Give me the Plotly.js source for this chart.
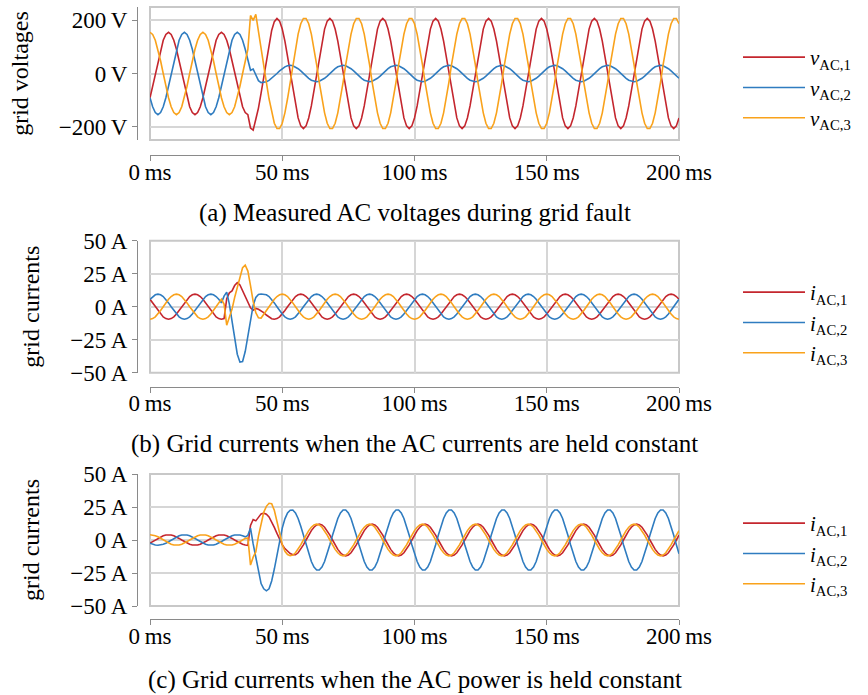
<!DOCTYPE html>
<html>
<head>
<meta charset="utf-8">
<script src="https://cdn.plot.ly/plotly-3.0.1.min.js"></script>
<style>html,body{margin:0;padding:0;background:#fff;}#chart{width:868px;height:695px;}</style>
</head>
<body>
<div id="chart"></div>
<script>
const startMs = 0;
const sampleStepMs = 1;
const xTickVals = [0, 50, 100, 150, 200];
const xTickText = ['0\u2009ms', '50\u2009ms', '100\u2009ms', '150\u2009ms', '200\u2009ms'];
const voltTickVals = [-200, 0, 200];
const voltTickText = ['\u2212200\u2009V', '0\u2009V', '200\u2009V'];
const currTickVals = [-50, -25, 0, 25, 50];
const currTickText = ['\u221250\u2009A', '\u221225\u2009A', '0\u2009A', '25\u2009A', '50\u2009A'];
const seriesNamesV = ['<i>v</i><sub>AC,1</sub>', '<i>v</i><sub>AC,2</sub>', '<i>v</i><sub>AC,3</sub>'];
const seriesNamesI = ['<i>i</i><sub>AC,1</sub>', '<i>i</i><sub>AC,2</sub>', '<i>i</i><sub>AC,3</sub>'];
const captions = ['(a) Measured AC voltages during grid fault',
  '(b) Grid currents when the AC currents are held constant',
  '(c) Grid currents when the AC power is held constant'];
const yTitles = ['grid voltages', 'grid currents', 'grid currents'];

const vAC1 = [
-91,-48,0,48,91,125,147,155,147,125,91,48,0,-48,-91,-125,-147,-155,-147,-125,
-91,-48,0,48,91,125,147,155,147,125,91,48,0,-48,-91,-125,-147,-155,
-205,-213,-172,-130,-74,-12,52,115,162,195,207,
197,167,122,64,0,-64,-122,-167,-197,-207,-197,-167,-122,-64,0,64,122,167,197,207,
197,167,122,64,0,-64,-122,-167,-197,-207,-197,-167,-122,-64,0,64,122,167,197,207,
197,167,122,64,0,-64,-122,-167,-197,-207,-197,-167,-122,-64,0,64,122,167,197,207,
197,167,122,64,0,-64,-122,-167,-197,-207,-197,-167,-122,-64,0,64,122,167,197,207,
197,167,122,64,0,-64,-122,-167,-197,-207,-197,-167,-122,-64,0,64,122,167,197,207,
197,167,122,64,0,-64,-122,-167,-197,-207,-197,-167,-122,-64,0,64,122,167,197,207,
197,167,122,64,0,-64,-122,-167,-197,-207,-197,-167,-122,-64,0,64,122,167,197,207,
197,167,122,64,0,-64,-122,-167,-197,-207,-197,-167];
const vAC2 = [
-91,-125,-147,-155,-147,-125,-91,-48,0,48,91,125,147,155,147,125,91,48,0,-48,
-91,-125,-147,-155,-147,-125,-91,-48,0,48,91,125,147,155,147,125,91,45,
12,17,-6,-27,-34,-33,-31,-26,-18,-10,
0,10,18,25,29,31,29,25,18,10,0,-10,-18,-25,-29,-31,-29,-25,-18,-10,
0,10,18,25,29,31,29,25,18,10,0,-10,-18,-25,-29,-31,-29,-25,-18,-10,
0,10,18,25,29,31,29,25,18,10,0,-10,-18,-25,-29,-31,-29,-25,-18,-10,
0,10,18,25,29,31,29,25,18,10,0,-10,-18,-25,-29,-31,-29,-25,-18,-10,
0,10,18,25,29,31,29,25,18,10,0,-10,-18,-25,-29,-31,-29,-25,-18,-10,
0,10,18,25,29,31,29,25,18,10,0,-10,-18,-25,-29,-31,-29,-25,-18,-10,
0,10,18,25,29,31,29,25,18,10,0,-10,-18,-25,-29,-31,-29,-25,-18,-10,
0,10,18,25,29,31,29,25,18,10,0,-10,-18];
const vAC3 = [
155,147,125,91,48,0,-48,-91,-125,-147,-155,-147,-125,-91,-48,0,48,91,125,147,
155,147,125,91,48,0,-48,-91,-125,-147,-155,-147,-125,-91,-48,0,48,91,
218,200,222,162,102,36,
-33,-95,-148,-187,-207,-207,-187,-148,-95,-33,33,95,148,187,207,207,187,148,95,33,
-33,-95,-148,-187,-207,-207,-187,-148,-95,-33,33,95,148,187,207,207,187,148,95,33,
-33,-95,-148,-187,-207,-207,-187,-148,-95,-33,33,95,148,187,207,207,187,148,95,33,
-33,-95,-148,-187,-207,-207,-187,-148,-95,-33,33,95,148,187,207,207,187,148,95,33,
-33,-95,-148,-187,-207,-207,-187,-148,-95,-33,33,95,148,187,207,207,187,148,95,33,
-33,-95,-148,-187,-207,-207,-187,-148,-95,-33,33,95,148,187,207,207,187,148,95,33,
-33,-95,-148,-187,-207,-207,-187,-148,-95,-33,33,95,148,187,207,207,187,148,95,33,
-33,-95,-148,-187,-207,-207,-187,-148,-95,-33,33,95,148,187,207,207,187];

const iAC1b = [
5.6,2.9,0,-2.9,-5.6,-7.7,-9.0,-9.5,-9.0,-7.7,-5.6,-2.9,0,2.9,5.6,7.7,9.0,9.5,9.0,7.7,
5.6,2.9,0,-2.9,-5.6,-7.7,-9.0,-9.5,-9.0,
6,10.5,12,16,18.2,16.5,12,7,2.5,-0.8,-2.6,-1.3,-2.0,-3.0,-4.5,-6.3,-8.0,-9.1,-9.5,
-9.0,-7.7,-5.6,-2.9,0,2.9,5.6,7.7,9.0,9.5,9.0,7.7,5.6,2.9,0,-2.9,-5.6,-7.7,-9.0,-9.5,
-9.0,-7.7,-5.6,-2.9,0,2.9,5.6,7.7,9.0,9.5,9.0,7.7,5.6,2.9,0,-2.9,-5.6,-7.7,-9.0,-9.5,
-9.0,-7.7,-5.6,-2.9,0,2.9,5.6,7.7,9.0,9.5,9.0,7.7,5.6,2.9,0,-2.9,-5.6,-7.7,-9.0,-9.5,
-9.0,-7.7,-5.6,-2.9,0,2.9,5.6,7.7,9.0,9.5,9.0,7.7,5.6,2.9,0,-2.9,-5.6,-7.7,-9.0,-9.5,
-9.0,-7.7,-5.6,-2.9,0,2.9,5.6,7.7,9.0,9.5,9.0,7.7,5.6,2.9,0,-2.9,-5.6,-7.7,-9.0,-9.5,
-9.0,-7.7,-5.6,-2.9,0,2.9,5.6,7.7,9.0,9.5,9.0,7.7,5.6,2.9,0,-2.9,-5.6,-7.7,-9.0,-9.5,
-9.0,-7.7,-5.6,-2.9,0,2.9,5.6,7.7,9.0,9.5,9.0,7.7,5.6,2.9,0,-2.9,-5.6,-7.7,-9.0,-9.5,
-9.0,-7.7,-5.6,-2.9,0,2.9,5.6,7.7,9.0,9.5,9.0,7.7,5.6];
const iAC2b = [
5.6,7.7,9.0,9.5,9.0,7.7,5.6,2.9,0,-2.9,-5.6,-7.7,-9.0,-9.5,-9.0,-7.7,-5.6,-2.9,0,2.9,
5.6,7.7,9.0,9.5,9.0,7.7,5.6,2.9,
8,11,2,-12,-25,-36,-42,-41.5,-34,-22,-9,1,7,9.3,9.6,
9.5,9.0,7.7,5.6,2.9,0,-2.9,-5.6,-7.7,-9.0,-9.5,-9.0,-7.7,-5.6,-2.9,0,2.9,5.6,7.7,9.0,
9.5,9.0,7.7,5.6,2.9,0,-2.9,-5.6,-7.7,-9.0,-9.5,-9.0,-7.7,-5.6,-2.9,0,2.9,5.6,7.7,9.0,
9.5,9.0,7.7,5.6,2.9,0,-2.9,-5.6,-7.7,-9.0,-9.5,-9.0,-7.7,-5.6,-2.9,0,2.9,5.6,7.7,9.0,
9.5,9.0,7.7,5.6,2.9,0,-2.9,-5.6,-7.7,-9.0,-9.5,-9.0,-7.7,-5.6,-2.9,0,2.9,5.6,7.7,9.0,
9.5,9.0,7.7,5.6,2.9,0,-2.9,-5.6,-7.7,-9.0,-9.5,-9.0,-7.7,-5.6,-2.9,0,2.9,5.6,7.7,9.0,
9.5,9.0,7.7,5.6,2.9,0,-2.9,-5.6,-7.7,-9.0,-9.5,-9.0,-7.7,-5.6,-2.9,0,2.9,5.6,7.7,9.0,
9.5,9.0,7.7,5.6,2.9,0,-2.9,-5.6,-7.7,-9.0,-9.5,-9.0,-7.7,-5.6,-2.9,0,2.9,5.6,7.7,9.0,
9.5,9.0,7.7,5.6,2.9,0,-2.9,-5.6,-7.7,-9.0,-9.5,-9.0,-7.7,-5.6,-2.9,0,2.9,5.6];
const iAC3b = [
-9.5,-9.0,-7.7,-5.6,-2.9,0,2.9,5.6,7.7,9.0,9.5,9.0,7.7,5.6,2.9,0,-2.9,-5.6,-7.7,-9.0,
-9.5,-9.0,-7.7,-5.6,-2.9,0,2.9,5.6,
2,-14,-8,-2,7,15,23,29.5,31.5,27,16,4,-4.5,-8.4,-8.6,
-5.6,-2.9,0,2.9,5.6,7.7,9.0,9.5,9.0,7.7,5.6,2.9,0,-2.9,-5.6,-7.7,-9.0,-9.5,-9.0,-7.7,
-5.6,-2.9,0,2.9,5.6,7.7,9.0,9.5,9.0,7.7,5.6,2.9,0,-2.9,-5.6,-7.7,-9.0,-9.5,-9.0,-7.7,
-5.6,-2.9,0,2.9,5.6,7.7,9.0,9.5,9.0,7.7,5.6,2.9,0,-2.9,-5.6,-7.7,-9.0,-9.5,-9.0,-7.7,
-5.6,-2.9,0,2.9,5.6,7.7,9.0,9.5,9.0,7.7,5.6,2.9,0,-2.9,-5.6,-7.7,-9.0,-9.5,-9.0,-7.7,
-5.6,-2.9,0,2.9,5.6,7.7,9.0,9.5,9.0,7.7,5.6,2.9,0,-2.9,-5.6,-7.7,-9.0,-9.5,-9.0,-7.7,
-5.6,-2.9,0,2.9,5.6,7.7,9.0,9.5,9.0,7.7,5.6,2.9,0,-2.9,-5.6,-7.7,-9.0,-9.5,-9.0,-7.7,
-5.6,-2.9,0,2.9,5.6,7.7,9.0,9.5,9.0,7.7,5.6,2.9,0,-2.9,-5.6,-7.7,-9.0,-9.5,-9.0,-7.7,
-5.6,-2.9,0,2.9,5.6,7.7,9.0,9.5,9.0,7.7,5.6,2.9,0,-2.9,-5.6,-7.7,-9.0,-9.5];

const iAC1c = [
-2.4,-1.2,0,1.2,2.4,3.2,3.8,4.0,3.8,3.2,2.4,1.2,0,-1.2,-2.4,-3.2,-3.8,-4.0,-3.8,-3.2,
-2.4,-1.2,0,1.2,2.4,3.2,3.8,4.0,3.8,3.2,2.4,1.2,0,-1.2,-2.4,-3.2,-3.8,-4.0,
11,15.5,14.5,17.5,19.8,20.3,19.5,17.5,14,9.5,5,0.5,-3.5,-6.5,-8.8,-10.3,-11.2,-11.2,
-9.7,-7.1,-3.7,0,3.7,7.1,9.7,11.4,12,11.4,9.7,7.1,3.7,0,-3.7,-7.1,-9.7,-11.4,-12,-11.4,
-9.7,-7.1,-3.7,0,3.7,7.1,9.7,11.4,12,11.4,9.7,7.1,3.7,0,-3.7,-7.1,-9.7,-11.4,-12,-11.4,
-9.7,-7.1,-3.7,0,3.7,7.1,9.7,11.4,12,11.4,9.7,7.1,3.7,0,-3.7,-7.1,-9.7,-11.4,-12,-11.4,
-9.7,-7.1,-3.7,0,3.7,7.1,9.7,11.4,12,11.4,9.7,7.1,3.7,0,-3.7,-7.1,-9.7,-11.4,-12,-11.4,
-9.7,-7.1,-3.7,0,3.7,7.1,9.7,11.4,12,11.4,9.7,7.1,3.7,0,-3.7,-7.1,-9.7,-11.4,-12,-11.4,
-9.7,-7.1,-3.7,0,3.7,7.1,9.7,11.4,12,11.4,9.7,7.1,3.7,0,-3.7,-7.1,-9.7,-11.4,-12,-11.4,
-9.7,-7.1,-3.7,0,3.7,7.1,9.7,11.4,12,11.4,9.7,7.1,3.7,0,-3.7,-7.1,-9.7,-11.4,-12,-11.4,
-9.7,-7.1,-3.7,0,3.7];
const iAC2c = [
-2.4,-3.2,-3.8,-4.0,-3.8,-3.2,-2.4,-1.2,0,1.2,2.4,3.2,3.8,4.0,3.8,3.2,2.4,1.2,0,-1.2,
-2.4,-3.2,-3.8,-4.0,-3.8,-3.2,-2.4,-1.2,0,1.2,2.4,3.2,3.8,4.0,3.8,3.2,2.4,
3.5,9,-3,-14,-25,-33,-37,-38.5,-37,-31,-22,-11,0,9,16,20.5,22.5,22.7,
20.5,16.3,10.4,3.6,-3.6,-10.4,-16.3,-20.5,-22.7,-22.7,-20.5,-16.3,-10.4,-3.6,3.6,10.4,16.3,20.5,22.7,22.7,
20.5,16.3,10.4,3.6,-3.6,-10.4,-16.3,-20.5,-22.7,-22.7,-20.5,-16.3,-10.4,-3.6,3.6,10.4,16.3,20.5,22.7,22.7,
20.5,16.3,10.4,3.6,-3.6,-10.4,-16.3,-20.5,-22.7,-22.7,-20.5,-16.3,-10.4,-3.6,3.6,10.4,16.3,20.5,22.7,22.7,
20.5,16.3,10.4,3.6,-3.6,-10.4,-16.3,-20.5,-22.7,-22.7,-20.5,-16.3,-10.4,-3.6,3.6,10.4,16.3,20.5,22.7,22.7,
20.5,16.3,10.4,3.6,-3.6,-10.4,-16.3,-20.5,-22.7,-22.7,-20.5,-16.3,-10.4,-3.6,3.6,10.4,16.3,20.5,22.7,22.7,
20.5,16.3,10.4,3.6,-3.6,-10.4,-16.3,-20.5,-22.7,-22.7,-20.5,-16.3,-10.4,-3.6,3.6,10.4,16.3,20.5,22.7,22.7,
20.5,16.3,10.4,3.6,-3.6,-10.4,-16.3,-20.5,-22.7,-22.7,-20.5,-16.3,-10.4,-3.6,3.6,10.4,16.3,20.5,22.7,22.7,
20.5,16.3,10.4,3.6,-3.6,-10.4];
const iAC3c = [
4.0,3.8,3.2,2.4,1.2,0,-1.2,-2.4,-3.2,-3.8,-4.0,-3.8,-3.2,-2.4,-1.2,0,1.2,2.4,3.2,3.8,
4.0,3.8,3.2,2.4,1.2,0,-1.2,-2.4,-3.2,-3.8,-4.0,-3.8,-3.2,-2.4,-1.2,0,1.2,
1.5,-19,-13,-9,3,12,21,25.5,27.8,27.5,22.5,14,4.5,-3.5,-8.5,-11,-11.9,
-11.4,-9.7,-7.1,-3.7,0,3.7,7.1,9.7,11.4,12,11.4,9.7,7.1,3.7,0,-3.7,-7.1,-9.7,-11.4,-12,
-11.4,-9.7,-7.1,-3.7,0,3.7,7.1,9.7,11.4,12,11.4,9.7,7.1,3.7,0,-3.7,-7.1,-9.7,-11.4,-12,
-11.4,-9.7,-7.1,-3.7,0,3.7,7.1,9.7,11.4,12,11.4,9.7,7.1,3.7,0,-3.7,-7.1,-9.7,-11.4,-12,
-11.4,-9.7,-7.1,-3.7,0,3.7,7.1,9.7,11.4,12,11.4,9.7,7.1,3.7,0,-3.7,-7.1,-9.7,-11.4,-12,
-11.4,-9.7,-7.1,-3.7,0,3.7,7.1,9.7,11.4,12,11.4,9.7,7.1,3.7,0,-3.7,-7.1,-9.7,-11.4,-12,
-11.4,-9.7,-7.1,-3.7,0,3.7,7.1,9.7,11.4,12,11.4,9.7,7.1,3.7,0,-3.7,-7.1,-9.7,-11.4,-12,
-11.4,-9.7,-7.1,-3.7,0,3.7,7.1,9.7,11.4,12,11.4,9.7,7.1,3.7,0,-3.7,-7.1,-9.7,-11.4,-12,
-11.4,-9.7,-7.1,-3.7,0,3.7,7.1];

const allSeries = {vAC1, vAC2, vAC3, iAC1b, iAC2b, iAC3b, iAC1c, iAC2c, iAC3c};
for (const k in allSeries) { if (allSeries[k].length !== 201) throw new Error(k + ' has ' + allSeries[k].length); }

const colors = ['#c4262e', '#2f7cc0', '#f9a21b'];
const serif = 'Liberation Serif';

const panels = [
  {series: [vAC1, vAC2, vAC3], names: seriesNamesV},
  {series: [iAC1b, iAC2b, iAC3b], names: seriesNamesI},
  {series: [iAC1c, iAC2c, iAC3c], names: seriesNamesI}
];

const traces = [];
panels.forEach((p, pi) => {
  const sfx = pi === 0 ? '' : String(pi + 1);
  p.series.forEach((s, si) => {
    traces.push({
      type: 'scatter', mode: 'lines', x0: startMs, dx: sampleStepMs, y: s,
      name: p.names[si], xaxis: 'x' + sfx, yaxis: 'y' + sfx,
      legend: 'legend' + sfx,
      line: {color: colors[si], width: 1.6}, hoverinfo: 'skip'
    });
  });
});

const W = 868, H = 695;
const xDom = [150 / W, 679 / W];
const frames = [[7, 140], [240.7, 372.7], [474, 606]];
const xLinePos = [155, 386.7, 619.3];
const yRanges = [[-250, 250], [-50, 50], [-50, 50]];
const yTicks = [voltTickVals, currTickVals, currTickVals];
const yTickText = [voltTickText, currTickText, currTickText];
const legendTop = [37, 272, 503];
const captionY = [213, 444, 680];

const tickFont = {family: serif, size: 23, color: '#000'};
const layout = {
  width: W, height: H, margin: {l: 0, r: 0, t: 0, b: 0},
  paper_bgcolor: '#fff', plot_bgcolor: '#fff',
  shapes: [], annotations: []
};
frames.forEach((f, i) => {
  const sfx = i === 0 ? '' : String(i + 1);
  layout['xaxis' + sfx] = {
    domain: xDom, range: [0, 200], anchor: 'free', position: 1 - xLinePos[i] / H,
    tickmode: 'array', tickvals: xTickVals, ticktext: xTickText, tickfont: tickFont,
    ticklabelstandoff: -9,
    showline: true, linecolor: '#8a8a8a', linewidth: 1,
    ticks: 'outside', ticklen: 5, tickcolor: '#8a8a8a', tickwidth: 1,
    showgrid: true, gridcolor: '#d6d6d6', gridwidth: 2, zeroline: false, fixedrange: true
  };
  layout['yaxis' + sfx] = {
    domain: [1 - f[1] / H, 1 - f[0] / H], range: yRanges[i], anchor: 'free', position: 137 / W,
    tickmode: 'array', tickvals: yTicks[i], ticktext: yTickText[i], tickfont: tickFont,
    showline: true, linecolor: '#8a8a8a', linewidth: 1,
    ticks: 'outside', ticklen: 5, tickcolor: '#8a8a8a', tickwidth: 1,
    showgrid: true, gridcolor: '#d6d6d6', gridwidth: 2, zeroline: false, fixedrange: true,
    title: {text: yTitles[i], font: {family: serif, size: 24, color: '#000'}, standoff: 22}
  };
  layout['legend' + sfx] = {
    x: 738 / W, xanchor: 'left', y: 1 - legendTop[i] / H, yanchor: 'top',
    font: {family: serif, size: 21, color: '#000'}, bgcolor: 'rgba(0,0,0,0)',
    itemwidth: 62, tracegroupgap: 0
  };
  layout.shapes.push({type: 'rect', xref: 'x' + sfx + ' domain', yref: 'y' + sfx + ' domain',
    x0: 0, x1: 1, y0: 0, y1: 1, line: {color: '#c8c8c8', width: 2}, layer: 'below'});
  layout.annotations.push({text: captions[i], xref: 'paper', yref: 'paper',
    x: 414.5 / W, y: 1 - captionY[i] / H, xanchor: 'center', yanchor: 'middle',
    showarrow: false, font: {family: serif, size: 25, color: '#000'}});
});

Plotly.newPlot('chart', traces, layout, {displayModeBar: false, staticPlot: true});
</script>
</body>
</html>
